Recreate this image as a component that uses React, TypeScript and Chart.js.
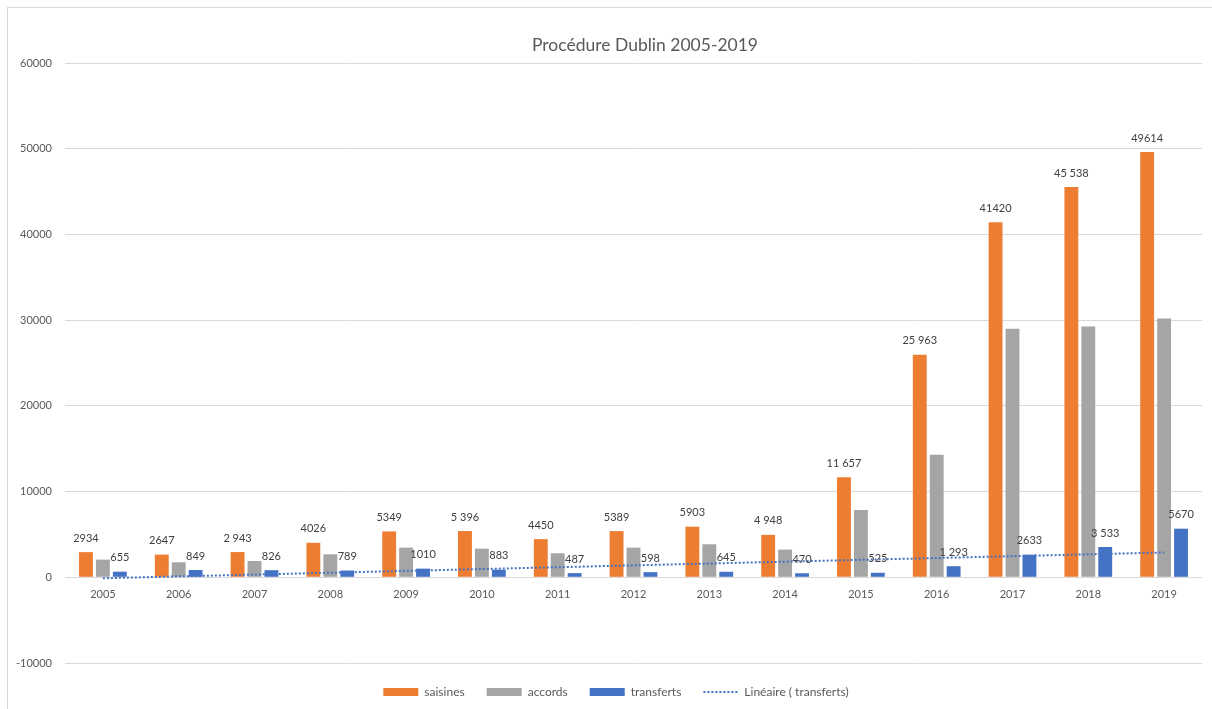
import React, { useEffect, useRef } from "react";
import { Chart, registerables } from "chart.js";

Chart.register(...registerables);

const years = ["2005", "2006", "2007", "2008", "2009", "2010", "2011", "2012", "2013", "2014", "2015", "2016", "2017", "2018", "2019"];
const saisines = [2934, 2647, 2943, 4026, 5349, 5396, 4450, 5389, 5903, 4948, 11657, 25963, 41420, 45538, 49614];
const saisinesLabels = ["2934", "2647", "2 943", "4026", "5349", "5 396", "4450", "5389", "5903", "4 948", "11 657", "25 963", "41420", "45 538", "49614"];
const accords = [2060, 1750, 1900, 2680, 3460, 3340, 2800, 3460, 3850, 3230, 7840, 14300, 29000, 29250, 30190];
const transferts = [655, 849, 826, 789, 1010, 883, 487, 598, 645, 470, 525, 1293, 2633, 3533, 5670];
const transfertsLabels = ["655", "849", "826", "789", "1010", "883", "487", "598", "645", "470", "525", "1 293", "2633", "3 533", "5670"];
const seriesNames = ["saisines", "accords", "transferts", "Linéaire ( transferts)"];
const title = "Procédure Dublin 2005-2019";
const yMin = -10000;
const yMax = 60000;
const yStep = 10000;

const ORANGE = "#ED7D31";
const GREY = "#A5A5A5";
const BLUE = "#4472C4";
const TEXT = "#595959";
const FONT = "Lato, 'Open Sans', sans-serif";

// Linear trendline (least squares) of transferts, like Excel's "Linéaire"
function linearTrend(values: number[]): number[] {
  const n = values.length;
  const xs = values.map((_, i) => i + 1);
  const mx = xs.reduce((a, b) => a + b, 0) / n;
  const my = values.reduce((a, b) => a + b, 0) / n;
  let sxy = 0;
  let sxx = 0;
  for (let i = 0; i < n; i++) {
    sxy += (xs[i] - mx) * (values[i] - my);
    sxx += (xs[i] - mx) * (xs[i] - mx);
  }
  const slope = sxy / sxx;
  const b = my - slope * mx;
  return xs.map((x) => b + slope * x);
}

const decorPlugin = {
  id: "decor",
  beforeDraw(chart: any) {
    const ctx = chart.ctx;
    ctx.save();
    ctx.fillStyle = "#ffffff";
    ctx.fillRect(0, 0, chart.width, chart.height);
    ctx.strokeStyle = "#d9d9d9";
    ctx.lineWidth = 1;
    ctx.strokeRect(7.5, 7.5, chart.width, chart.height);
    ctx.restore();
  },
  afterDatasetsDraw(chart: any) {
    const ctx = chart.ctx;
    const xScale = chart.scales.x;
    const yScale = chart.scales.y;
    ctx.save();
    // Title
    ctx.fillStyle = TEXT;
    ctx.font = `17.5px ${FONT}`;
    ctx.textAlign = "center";
    ctx.textBaseline = "middle";
    ctx.fillText(title, 645, 45);

    // Category labels next to the zero line
    ctx.font = `11px ${FONT}`;
    const zeroY = yScale.getPixelForValue(0);
    years.forEach((yr, i) => {
      ctx.fillText(yr, xScale.getPixelForValue(i), zeroY + 17);
    });

    // Data labels (saisines and transferts)
    ctx.fillStyle = "#404040";
    const labelSets: [string, string[]][] = [
      [seriesNames[0], saisinesLabels],
      [seriesNames[2], transfertsLabels],
    ];
    labelSets.forEach(([name, labels]) => {
      const dsIndex = chart.data.datasets.findIndex((d: any) => d.label === name);
      const meta = chart.getDatasetMeta(dsIndex);
      meta.data.forEach((bar: any, i: number) => {
        ctx.fillText(labels[i], bar.x, bar.y - 14);
      });
    });

    // Legend
    ctx.font = `12px ${FONT}`;
    ctx.textAlign = "left";
    const swW = 35;
    const gapIn = 6;
    const gapOut = 22;
    const widths = seriesNames.map((s) => swW + gapIn + ctx.measureText(s).width);
    const total = widths.reduce((a, b) => a + b, 0) + gapOut * (widths.length - 1);
    let x = 616 - total / 2;
    const ly = 692;
    const colors = [ORANGE, GREY, BLUE];
    seriesNames.forEach((name, i) => {
      if (i < 3) {
        ctx.fillStyle = colors[i];
        ctx.fillRect(x, ly - 4, swW, 8);
      } else {
        ctx.strokeStyle = BLUE;
        ctx.lineWidth = 2;
        ctx.setLineDash([2, 2]);
        ctx.beginPath();
        ctx.moveTo(x, ly);
        ctx.lineTo(x + swW, ly);
        ctx.stroke();
        ctx.setLineDash([]);
      }
      ctx.fillStyle = TEXT;
      ctx.fillText(name, x + swW + gapIn, ly);
      x += widths[i] + gapOut;
    });
    ctx.restore();
  },
};

export default function App() {
  const canvasRef = useRef<HTMLCanvasElement | null>(null);

  useEffect(() => {
    document.body.style.margin = "0";
    const canvas = canvasRef.current;
    if (!canvas) return;
    const trend = linearTrend(transferts);
    const chart = new Chart(canvas, {
      type: "bar",
      data: {
        labels: years,
        datasets: [
          {
            type: "line",
            label: seriesNames[3],
            data: trend,
            borderColor: BLUE,
            borderWidth: 2,
            borderDash: [2, 2],
            pointRadius: 0,
            fill: false,
            order: 0,
          } as any,
          {
            label: seriesNames[0],
            data: saisines,
            backgroundColor: ORANGE,
            categoryPercentage: 0.67,
            barPercentage: 0.82,
            order: 1,
          },
          {
            label: seriesNames[1],
            data: accords,
            backgroundColor: GREY,
            categoryPercentage: 0.67,
            barPercentage: 0.82,
            order: 1,
          },
          {
            label: seriesNames[2],
            data: transferts,
            backgroundColor: BLUE,
            categoryPercentage: 0.67,
            barPercentage: 0.82,
            order: 1,
          },
        ],
      },
      options: {
        responsive: false,
        animation: false,
        layout: { padding: { top: 63, bottom: 46, left: 0, right: 10 } },
        plugins: {
          legend: { display: false },
          title: { display: false },
          tooltip: { enabled: false },
        },
        scales: {
          x: {
            display: false,
            offset: true,
          },
          y: {
            min: yMin,
            max: yMax,
            ticks: {
              stepSize: yStep,
              color: TEXT,
              font: { family: FONT, size: 11 },
              padding: 13,
              callback: (v: any) => String(v),
            },
            grid: {
              color: "#d9d9d9",
              drawTicks: false,
            },
            border: { display: false },
            afterFit: (scale: any) => {
              scale.width = 65;
            },
          },
        },
      },
      plugins: [decorPlugin],
    });
    return () => chart.destroy();
  }, []);

  return (
    <div style={{ width: 1212, height: 709 }}>
      <canvas ref={canvasRef} width={1212} height={709} />
    </div>
  );
}
